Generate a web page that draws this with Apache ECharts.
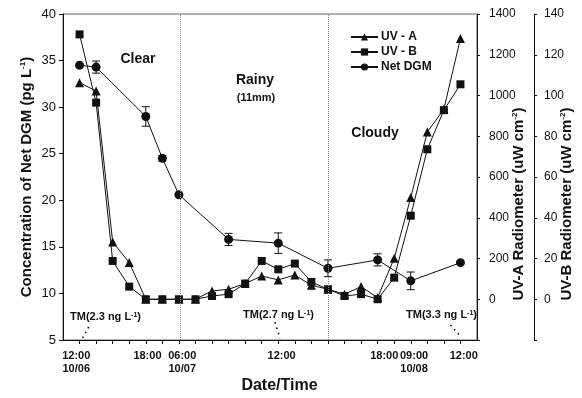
<!DOCTYPE html>
<html>
<head>
<meta charset="utf-8">
<script src="https://cdn.jsdelivr.net/npm/echarts@6/dist/echarts.min.js"></script>
<style>
  html, body { margin: 0; padding: 0; background: #fff; }
  #chart { width: 582px; height: 398px; }
</style>
</head>
<body>
<div id="chart"></div>
<script>
var chart = echarts.init(document.getElementById('chart'), null, { renderer: 'canvas' });

// sample slots on the (compressed, non-linear) time axis, one slot per tick
let uvX = [0, 1, 2, 3, 4, 5, 6, 7, 8, 9, 10, 11, 12, 13, 14, 15, 16, 17, 18, 19, 20, 21, 22, 23];
let uvA = [1063, 1022, 281, 180, 0, 0, 0, 0, 41, 49, 77, 114, 95, 119, 69, 49, 25, 62, 8, 201, 499, 821, 933, 1280];
let uvB = [130, 96.5, 18.8, 6.2, 0, 0, 0, 0, 1.6, 2.5, 7.7, 18.8, 14.7, 17.5, 8.5, 4.9, 1.6, 2.5, 0, 10.6, 41, 73.6, 92.8, 105.5];

let dgmX   = [0, 1, 4, 5, 6, 9, 12, 15, 18, 20, 23];
let dgmY   = [34.5, 34.3, 29.0, 24.5, 20.6, 15.8, 15.4, 12.7, 13.6, 11.35, 13.3];
let dgmErr = [0, 0.65, 1.05, 0.3, 0, 0.65, 1.1, 0.9, 0.65, 0.95, 0];

let tickVals   = [0, 1, 2, 3, 4, 5, 6, 7, 8, 9, 10, 11, 12, 13, 14, 15, 16, 17, 18, 19, 20, 21, 22, 23];
let labelPos   = [-0.2, 4.1, 6.2, 12.2, 18.4, 20.2, 23.2];
let timeLabels = ['12:00\n10/06', '18:00', '06:00\n10/07', '12:00', '18:00', '09:00\n10/08', '12:00'];

// weather period borders and the TM leader dots
let dividers = [6.1, 15];
let tmLeaders = [
  [[0.55, 6.4], [0.15, 5.1]],
  [[11.8, 6.9], [12.1, 5.2]],
  [[22.4, 6.6], [23.0, 5.4]]
];

var ink = '#111';
var ff = '"Liberation Sans", Arial, sans-serif';
var sup = { fontFamily: ff, fontWeight: 'bold', fontSize: 8, verticalAlign: 'top', color: ink };

function pairs(xs, ys) {
  return xs.map(function (x, i) { return [x, ys[i]]; });
}

var markLines = dividers.map(function (v) {
  return { xAxis: v, lineStyle: { color: '#888', type: 'dotted', width: 1 } };
});
tmLeaders.forEach(function (l) {
  markLines.push([
    { coord: l[0], lineStyle: { color: ink, type: [1.5, 4], width: 1.6 } },
    { coord: l[1] }
  ]);
});

function annot(txt, x, y, size, align) {
  return {
    type: 'text', x: x, y: y, silent: true,
    style: {
      text: txt, fill: ink, fontFamily: ff, fontWeight: 'bold', fontSize: size,
      align: align || 'center', verticalAlign: 'middle',
      rich: { sup: { fontFamily: ff, fontWeight: 'bold', fontSize: 7, verticalAlign: 'top', fill: ink } }
    }
  };
}

chart.setOption({
  animation: false,
  backgroundColor: '#fff',
  textStyle: { fontFamily: ff, color: ink },
  grid: {
    left: 63, right: 105, top: 14, bottom: 58, outerBoundsMode: 'none', containLabel: false,
    show: true, borderColor: '#666', borderWidth: 1, backgroundColor: 'transparent'
  },
  legend: {
    orient: 'vertical', left: 345, top: 26, itemWidth: 27, itemHeight: 9, itemGap: 3,
    data: ['UV - A', 'UV - B', 'Net DGM'],
    textStyle: { fontFamily: ff, fontWeight: 'bold', fontSize: 12, color: ink, padding: [0, 0, 0, -2] }
  },
  xAxis: {
    type: 'value', min: -1, max: 24,
    axisLine: { onZero: false, lineStyle: { color: ink } },
    axisTick: { customValues: tickVals, length: 4, lineStyle: { color: ink } },
    axisLabel: {
      customValues: labelPos,
      formatter: function (v) { var k = labelPos.indexOf(v); return k < 0 ? '' : timeLabels[k]; },
      fontFamily: ff, fontWeight: 'bold', fontSize: 11, lineHeight: 13, color: ink, margin: 9
    },
    splitLine: { show: false },
    name: 'Date/Time', nameLocation: 'middle', nameGap: 38, nameMoveOverlap: false,
    nameTextStyle: { fontFamily: ff, fontWeight: 'bold', fontSize: 16, color: ink, padding: [0, 0, 0, 19] }
  },
  yAxis: [
    {
      type: 'value', min: 5, max: 40, interval: 5, position: 'left',
      axisLine: { show: true, onZero: false, lineStyle: { color: ink } },
      axisTick: { show: true, length: 4, lineStyle: { color: ink } },
      axisLabel: { fontFamily: ff, fontSize: 13, color: ink, margin: 7 },
      splitLine: { show: false },
      name: 'Concentration of Net DGM (pg L{sup|-1})', nameLocation: 'middle', nameGap: 29, nameMoveOverlap: false,
      nameTextStyle: { fontFamily: ff, fontWeight: 'bold', fontSize: 15, color: ink, rich: { sup: sup } }
    },
    {
      type: 'value', min: -200, max: 1400, interval: 200, position: 'right',
      axisLine: { show: true, onZero: false, lineStyle: { color: ink } },
      axisTick: { show: true, length: 3, lineStyle: { color: ink } },
      axisLabel: { fontFamily: ff, fontSize: 12, color: ink, margin: 12, formatter: function (v) { return v < 0 ? '' : v; } },
      splitLine: { show: false },
      name: 'UV-A Radiometer (uW cm{sup|-2})', nameLocation: 'middle', nameGap: 34, nameMoveOverlap: false,
      nameTextStyle: { fontFamily: ff, fontWeight: 'bold', fontSize: 15, color: ink, padding: [0, 54, 0, 0], rich: { sup: sup } }
    },
    {
      type: 'value', min: -20, max: 140, interval: 20, position: 'right', offset: 57,
      axisLine: { show: true, onZero: false, lineStyle: { color: ink } },
      axisTick: { show: true, length: 3, lineStyle: { color: ink } },
      axisLabel: { fontFamily: ff, fontSize: 12, color: ink, margin: 10, formatter: function (v) { return v < 0 ? '' : v; } },
      splitLine: { show: false },
      name: 'UV-B Radiometer (uW cm{sup|-2})', nameLocation: 'middle', nameGap: 25, nameMoveOverlap: false,
      nameTextStyle: { fontFamily: ff, fontWeight: 'bold', fontSize: 15, color: ink, padding: [0, 54, 0, 0], rich: { sup: sup } }
    }
  ],
  graphic: [
    annot('Clear', 138, 59, 14),
    annot('Rainy', 255, 80, 14),
    annot('(11mm)', 256, 98, 11),
    annot('Cloudy', 375, 133, 14),
    annot('TM(2.3 ng L{sup|-1})', 70, 317, 11, 'left'),
    annot('TM(2.7 ng L{sup|-1})', 243, 315, 11, 'left'),
    annot('TM(3.3 ng L{sup|-1})', 406, 315, 11, 'left')
  ],
  series: [
    {
      name: 'UV - A', type: 'line', yAxisIndex: 1, data: pairs(uvX, uvA),
      symbol: 'triangle', symbolSize: 9, showAllSymbol: true,
      lineStyle: { color: ink, width: 1 }, itemStyle: { color: ink }, z: 3
    },
    {
      name: 'UV - B', type: 'line', yAxisIndex: 2, data: pairs(uvX, uvB),
      symbol: 'rect', symbolSize: 8, showAllSymbol: true,
      lineStyle: { color: ink, width: 1 }, itemStyle: { color: ink }, z: 3
    },
    {
      name: 'Net DGM', type: 'line', yAxisIndex: 0, data: pairs(dgmX, dgmY),
      symbol: 'circle', symbolSize: 9, showAllSymbol: true,
      lineStyle: { color: ink, width: 1 }, itemStyle: { color: ink }, z: 3,
      markLine: { silent: true, symbol: 'none', label: { show: false }, data: markLines }
    },
    {
      type: 'custom', yAxisIndex: 0, z: 4, silent: true,
      data: dgmX.map(function (x, i) { return [x, dgmY[i], dgmErr[i]]; }),
      encode: { x: 0, y: 1 },
      renderItem: function (params, api) {
        var e = api.value(2);
        if (!e) return null;
        var x = api.value(0), y = api.value(1);
        var hi = api.coord([x, y + e]), lo = api.coord([x, y - e]);
        var w = 4, st = { stroke: ink, lineWidth: 1 };
        return {
          type: 'group',
          children: [
            { type: 'line', shape: { x1: hi[0], y1: hi[1], x2: lo[0], y2: lo[1] }, style: st },
            { type: 'line', shape: { x1: hi[0] - w, y1: hi[1], x2: hi[0] + w, y2: hi[1] }, style: st },
            { type: 'line', shape: { x1: lo[0] - w, y1: lo[1], x2: lo[0] + w, y2: lo[1] }, style: st }
          ]
        };
      }
    }
  ]
});
</script>
</body>
</html>
